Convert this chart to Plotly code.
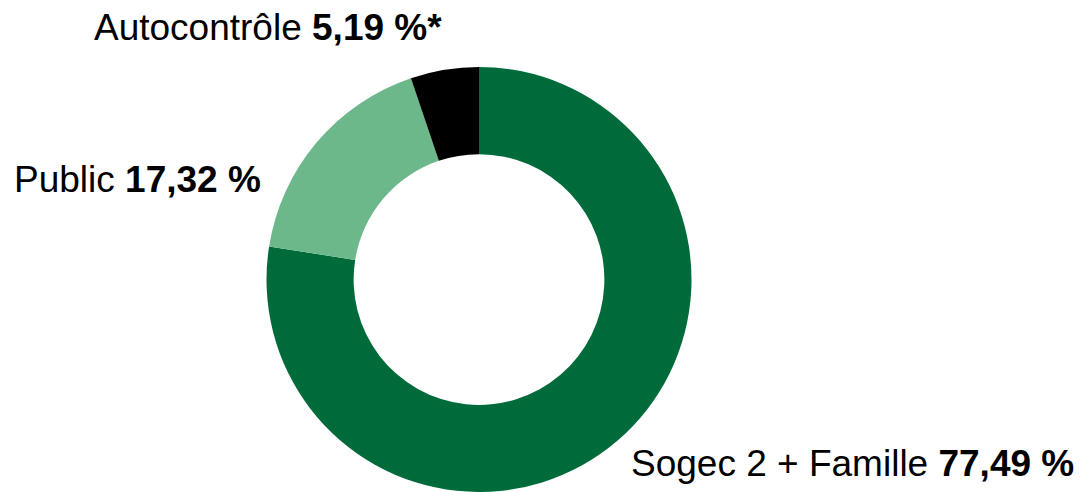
import plotly.graph_objects as go

# parts du capital
labels = ["Sogec 2 + Famille", "Public", "Autocontrôle"]
values = [77.49, 17.32, 5.19]
value_text = ["77,49 %", "17,32 %", "5,19 %*"]
colors = ["#006B3A", "#6DB88A", "#000000"]

# the page body has an 8px margin, so the figure is drawn 8px in from the corner
OFF = 8
W, H = 1084 - OFF, 492 - OFF


def px_x(x):
    return (x - OFF) / W


def px_y(y):
    return 1 - (y - OFF) / H


fig = go.Figure(go.Pie(
    labels=labels,
    values=values,
    hole=0.59,
    sort=False,
    direction="clockwise",
    rotation=0,
    marker=dict(colors=colors, line=dict(width=0)),
    textinfo="none",
    hoverinfo="label+percent",
    domain=dict(x=[px_x(266), px_x(692)], y=[max(0, px_y(493)), px_y(67)]),
    showlegend=False,
))

# labels placed around the ring
label_pos = [(1076, 463, "right"), (263, 180, "right"), (444, 28, "right")]
for lab, txt, (px, py, anchor) in zip(labels, value_text, label_pos):
    fig.add_annotation(
        x=px_x(px), y=px_y(py), xref="paper", yref="paper",
        xanchor=anchor, yanchor="middle", showarrow=False,
        text=f"{lab} <b>{txt}</b>",
        font=dict(family="Liberation Sans, Arial", size=37, color="#000000"),
    )

fig.update_layout(
    width=W, height=H,
    margin=dict(l=0, r=0, t=0, b=0),
    paper_bgcolor="white",
    plot_bgcolor="white",
)

fig.write_html("out.html")
